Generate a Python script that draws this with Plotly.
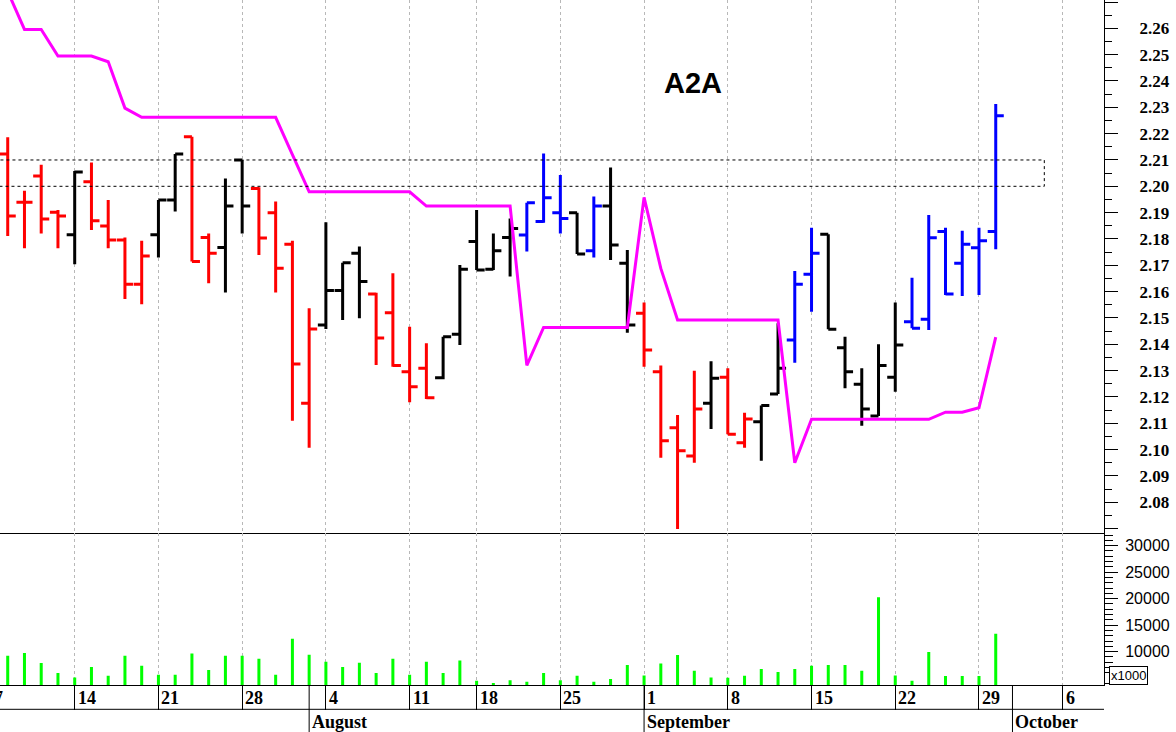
import pandas as pd
import plotly.graph_objects as go

# ---------------- data ----------------
first_day = "2025-07-07"
last_day = "2025-10-10"
holidays = ["2025-08-15"]

data_start = "2025-07-08"   # first bar visible on chart

open_ = [2.2123, 2.1939, 2.2039, 2.1901, 2.1816, 2.2017, 2.1849, 2.1796, 2.1628, 2.1816,
         2.1948, 2.2188, 2.1806, 2.1768, 2.2100, 2.1992, 2.1900, 2.1780, 2.1176, 2.1473,
         2.1604, 2.1746, 2.1591, 2.1520, 2.1296, 2.1309, 2.1273, 2.1438, 2.1790, 2.1685,
         2.1806, 2.1815, 2.1866, 2.1900, 2.1900, 2.1755, 2.1925, 2.1708, 2.1518, 2.1296,
         2.1083, 2.0976, 2.1176, 2.1275, 2.1026, 2.1106, 2.1211, 2.1416, 2.1666, 2.1818,
         2.1387, 2.1248, 2.1128, 2.1275, 2.1486, 2.1495, 2.1828, 2.1708, 2.1767, 2.1828]
high = [2.2186, 2.1983, 2.2082, 2.1910, 2.2058, 2.2090, 2.1948, 2.1806, 2.1793, 2.1948,
        2.2123, 2.2188, 2.1821, 2.2030, 2.2100, 2.1996, 2.1942, 2.1793, 2.1537, 2.1863,
        2.1710, 2.1771, 2.1596, 2.1670, 2.1467, 2.1404, 2.1429, 2.1701, 2.1910, 2.1821,
        2.1878, 2.1938, 2.2125, 2.2043, 2.1900, 2.1961, 2.2071, 2.1758, 2.1559, 2.1319,
        2.1131, 2.1299, 2.1336, 2.1309, 2.1140, 2.1167, 2.1480, 2.1678, 2.1843, 2.1818,
        2.1429, 2.1309, 2.1400, 2.1559, 2.1653, 2.1891, 2.1843, 2.1831, 2.1843, 2.2313]
low = [2.1811, 2.1765, 2.1821, 2.1765, 2.1704, 2.1834, 2.1765, 2.1572, 2.1552, 2.1730,
       2.1904, 2.1714, 2.1632, 2.1597, 2.1821, 2.1739, 2.1597, 2.1110, 2.1007, 2.1458,
       2.1492, 2.1499, 2.1321, 2.1315, 2.1180, 2.1192, 2.1267, 2.1397, 2.1682, 2.1682,
       2.1657, 2.1752, 2.1862, 2.1821, 2.1743, 2.1730, 2.1720, 2.1444, 2.1315, 2.0969,
       2.0698, 2.0950, 2.1078, 2.1058, 2.1007, 2.0958, 2.1211, 2.1330, 2.1524, 2.1457,
       2.1233, 2.1091, 2.1128, 2.1220, 2.1461, 2.1454, 2.1587, 2.1583, 2.1587, 2.1761]
close = [2.1887, 2.1939, 2.1876, 2.1887, 2.2054, 2.1869, 2.1796, 2.1628, 2.1735, 2.1948,
         2.2123, 2.1714, 2.1746, 2.1925, 2.1925, 2.1804, 2.1689, 2.1325, 2.1458, 2.1604,
         2.1710, 2.1638, 2.1424, 2.1319, 2.1239, 2.1197, 2.1429, 2.1685, 2.1682, 2.1755,
         2.1840, 2.1938, 2.1957, 2.1878, 2.1743, 2.1925, 2.1777, 2.1473, 2.1378, 2.1034,
         2.0996, 2.1154, 2.1271, 2.1058, 2.1116, 2.1167, 2.1309, 2.1628, 2.1746, 2.1457,
         2.1296, 2.1154, 2.1319, 2.1397, 2.1461, 2.1805, 2.1591, 2.1780, 2.1793, 2.2268]
bar_color = list("rrrrkrrrrkkrrkkrrrrkkkrrrrkkkkkbbbkbkkrrrrkrrkkbbkkkkkbbbbbb")

stop_line = [2.2740, 2.2596, 2.2596, 2.2495, 2.2495, 2.2495, 2.2473, 2.2297, 2.2262, 2.2262,
             2.2262, 2.2262, 2.2262, 2.2262, 2.2262, 2.2262, 2.2262, 2.2120, 2.1979, 2.1979,
             2.1979, 2.1979, 2.1979, 2.1979, 2.1979, 2.1925, 2.1925, 2.1925, 2.1925, 2.1925,
             2.1925, 2.1320, 2.1464, 2.1464, 2.1464, 2.1464, 2.1464, 2.1464, 2.1958, 2.1688,
             2.1492, 2.1492, 2.1492, 2.1492, 2.1492, 2.1492, 2.1492, 2.0950, 2.1115, 2.1115,
             2.1115, 2.1115, 2.1115, 2.1115, 2.1115, 2.1115, 2.1142, 2.1142, 2.1159, 2.1427]

volume = [9250, 9750, 7870, 5980, 5150, 7090, 5470, 9250, 7360, 5660,
          5660, 9680, 6530, 9250, 9250, 8680, 5660, 12450, 9430, 8110,
          7110, 7920, 5980, 8680, 5660, 8110, 5980, 8360, 4530, 4090,
          4590, 4340, 5980, 4590, 5470, 4340, 4850, 7490, 5530, 7770,
          9380, 6420, 5150, 5090, 5470, 6740, 6170, 6740, 7360, 7490,
          7490, 6420, 20250, 5530, 4530, 9940, 5420, 5420, 5420, 13400]

zone_low, zone_high, zone_end = 2.20, 2.21, "2025-10-03"
title = "A2A"

price_ticks = [2.07, 2.08, 2.09, 2.10, 2.11, 2.12, 2.13, 2.14, 2.15, 2.16, 2.17,
               2.18, 2.19, 2.20, 2.21, 2.22, 2.23, 2.24, 2.25, 2.26, 2.27]
volume_ticks = [10000, 15000, 20000, 25000, 30000]
month_names = {7: "July", 8: "August", 9: "September", 10: "October"}

# ---------------- calendar (trading-day axis) ----------------
calendar = [d for d in pd.bdate_range(first_day, last_day) if d.strftime("%Y-%m-%d") not in holidays]
cal_idx = {d: i for i, d in enumerate(calendar)}
start = cal_idx[pd.Timestamp(data_start)]
x_pos = list(range(start, start + len(close)))
mondays = [i for i, d in enumerate(calendar) if d.weekday() == 0]
month_starts = [i for i, d in enumerate(calendar) if i > 0 and d.month != calendar[i - 1].month]
zone_x1 = cal_idx[pd.Timestamp(zone_end)] - 0.1

X_RANGE = [0.539, 66.465]
P_RANGE = [2.06814, 2.27076]
V_RANGE = [3717, 32302]
VOL_TOP = 0.2212

colors = {"r": "#ff0000", "k": "#000000", "b": "#0000ff"}

fig = go.Figure()
for code, col in colors.items():
    sel = [i for i, c in enumerate(bar_color) if c == code]
    fig.add_trace(go.Ohlc(
        x=[x_pos[i] for i in sel],
        open=[open_[i] for i in sel], high=[high[i] for i in sel],
        low=[low[i] for i in sel], close=[close[i] for i in sel],
        increasing=dict(line=dict(color=col, width=3)),
        decreasing=dict(line=dict(color=col, width=3)),
        tickwidth=0.48, xaxis="x", yaxis="y", showlegend=False))

fig.add_trace(go.Scatter(x=x_pos, y=stop_line, mode="lines",
                         line=dict(color="#ff00ff", width=3), xaxis="x", yaxis="y",
                         showlegend=False))

fig.add_trace(go.Bar(x=x_pos, y=volume, width=0.18, marker=dict(color="#00ff00", line=dict(width=0)),
                     xaxis="x2", yaxis="y2", showlegend=False))

# dotted resistance zone
fig.add_shape(type="rect", xref="x", yref="y", x0=x_pos[0] - 3, x1=zone_x1,
              y0=zone_low, y1=zone_high, line=dict(color="black", width=1, dash="3px,3px"))

grid = dict(showgrid=True, gridcolor="#b8b8b8", gridwidth=1, griddash="3px,3px")
fig.update_layout(
    width=1176, height=732, margin=dict(l=0, r=72, t=0, b=47, autoexpand=False),
    paper_bgcolor="white", plot_bgcolor="white", showlegend=False,
    xaxis=dict(domain=[0, 1], anchor="y", range=X_RANGE, tickmode="array", tickvals=mondays,
               showticklabels=False, ticks="", showline=True, linecolor="black", linewidth=1,
               zeroline=False, rangeslider=dict(visible=False), **grid),
    xaxis2=dict(domain=[0, 1], anchor="y2", range=X_RANGE, tickmode="array", tickvals=mondays,
                showticklabels=False, ticks="outside", ticklen=24, tickwidth=1, tickcolor="black",
                showline=True, linecolor="black", linewidth=1, zeroline=False, **grid),
    yaxis=dict(domain=[VOL_TOP, 1], anchor="x", side="right", range=P_RANGE,
               tickmode="array", tickvals=price_ticks,
               ticktext=["" if t in (2.07, 2.27) else f"{t:.2f}" for t in price_ticks],
               ticks="outside", ticklen=13, tickwidth=1, tickcolor="black",
               minor=dict(tickmode="array", tickvals=[round(t + 0.005, 3) for t in price_ticks[:-1]] + [2.065],
                          ticks="outside", ticklen=7, tickwidth=1, tickcolor="black"),
               showline=True, linecolor="black", linewidth=1, showgrid=False, zeroline=False,
               tickfont=dict(family="Liberation Serif", size=17, color="black", weight="bold"),
               ticklabelstandoff=18, automargin=False),
    yaxis2=dict(domain=[0, VOL_TOP], anchor="x2", side="right", range=V_RANGE,
                tickmode="array", tickvals=volume_ticks, tickformat="d", ticks="outside",
                ticklen=13, tickwidth=1, tickcolor="black",
                minor=dict(tickmode="array", tickvals=[v for v in range(4000, 33000, 1000) if v % 5000],
                           ticks="outside", ticklen=8, tickwidth=1, tickcolor="black"),
                showline=True, linecolor="black", linewidth=1, showgrid=False, zeroline=False,
                tickfont=dict(family="Liberation Sans", size=16, color="black"),
                ticklabelstandoff=4, automargin=False),
)

# date band
H = 685.0
span = X_RANGE[1] - X_RANGE[0]
def px(i):
    return (i - X_RANGE[0]) / span

fig.add_shape(type="line", xref="paper", yref="paper", x0=0, x1=1, y0=-24.3 / H, y1=-24.3 / H,
              line=dict(color="black", width=1))
for m in month_starts:
    fig.add_shape(type="line", xref="paper", yref="paper", x0=px(m), x1=px(m), y0=0, y1=-47 / H,
                  line=dict(color="black", width=1))
    fig.add_annotation(x=px(m), y=-36.5 / H, xref="paper", yref="paper", xanchor="left",
                       yanchor="middle", xshift=1, showarrow=False,
                       text=month_names[calendar[m].month],
                       font=dict(family="Liberation Serif", size=18, color="black", weight="bold"))
for m in mondays:
    fig.add_annotation(x=px(m), y=-12.5 / H, xref="paper", yref="paper", xanchor="left",
                       yanchor="middle", xshift=1, showarrow=False, text=str(calendar[m].day),
                       font=dict(family="Liberation Serif", size=18, color="black", weight="bold"))

fig.add_annotation(x=1108.7 / 1104, y=0, xref="paper", yref="paper", xanchor="left",
                   yanchor="bottom", showarrow=False, text="x1000", bordercolor="black",
                   borderwidth=1, borderpad=1, bgcolor="white",
                   font=dict(family="Liberation Sans", size=13, color="black"))

fig.add_annotation(x=693.3 / 1104, y=(H - 83) / H, xref="paper", yref="paper", xanchor="center",
                   yanchor="middle", showarrow=False, text="<b>" + title + "</b>",
                   font=dict(family="Liberation Sans", size=29, color="black"))

fig.write_html("out.html", config={"displayModeBar": False},
               post_script="document.body.style.margin='0px';")
